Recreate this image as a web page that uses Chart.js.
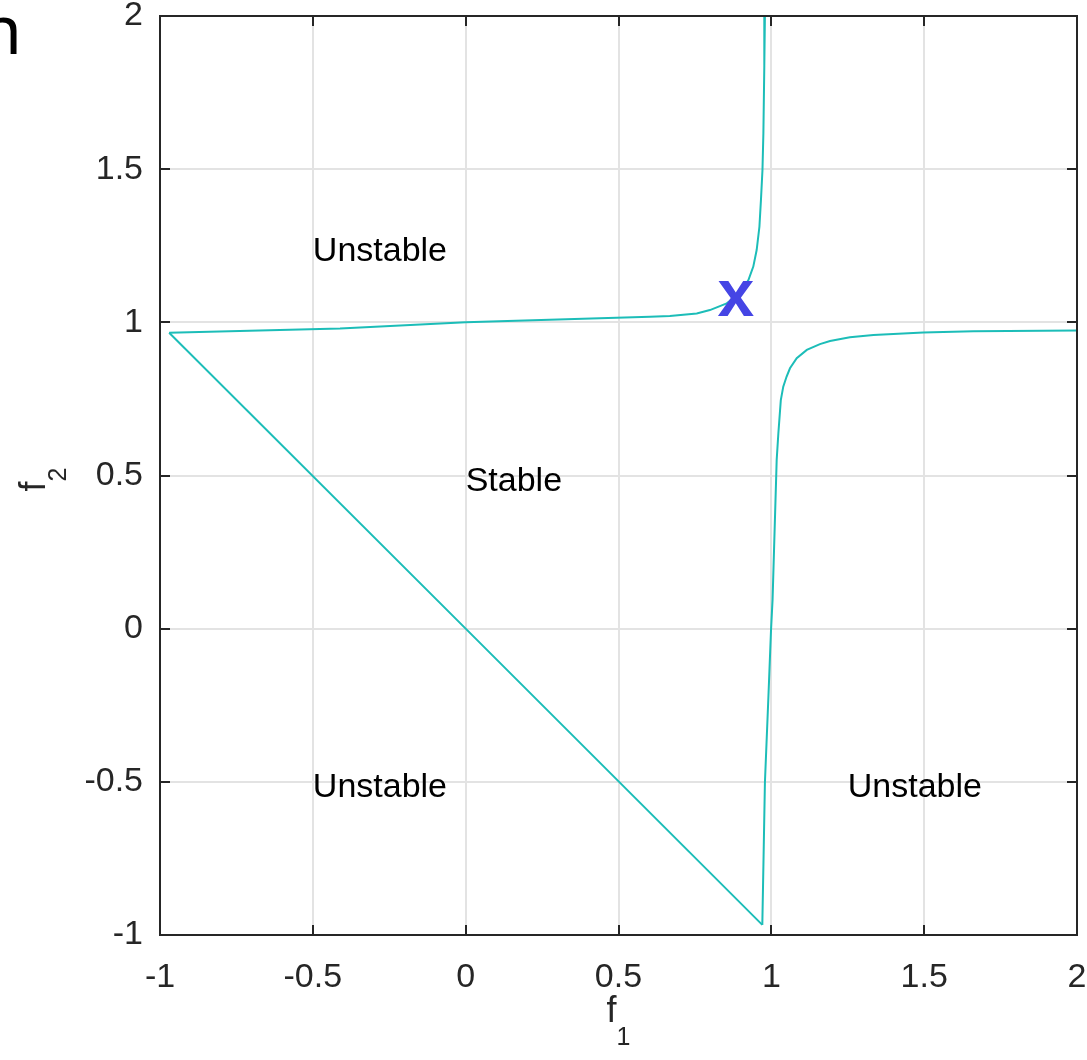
<!DOCTYPE html>
<html>
<head>
<meta charset="utf-8">
<script src="https://cdn.jsdelivr.net/npm/chart.js@4.4.1/dist/chart.umd.min.js"></script>
<style>
html,body{margin:0;padding:0;background:#fff;overflow:hidden;}
#wrap{position:relative;width:1087px;height:1060px;}
canvas{display:block;}
</style>
</head>
<body>
<div id="wrap"><canvas id="c" width="1087" height="1060" style="width:1087px;height:1060px;"></canvas></div>
<script>
// Upper boundary branch (f1, f2)
const upperF1 = [0.979, 0.977, 0.974, 0.971, 0.966, 0.961, 0.952, 0.941, 0.925, 0.898, 0.854, 0.799, 0.756, 0.668, 0.603, 0.0, -0.411, -0.970];
const upperF2 = [2.0, 1.835, 1.617, 1.497, 1.399, 1.312, 1.236, 1.182, 1.138, 1.095, 1.062, 1.040, 1.029, 1.021, 1.018, 1.0, 0.980, 0.966];
// Diagonal boundary
const diagF1 = [-0.970, 0.0, 0.9705];
const diagF2 = [0.966, 0.0, -0.967];
// Right boundary branch
const rightF1 = [0.9705, 0.974, 0.979, 0.990, 0.999, 1.004, 1.0175, 1.023, 1.031, 1.039, 1.050, 1.061, 1.083, 1.116, 1.159, 1.192, 1.257, 1.334, 1.497, 1.661, 2.0];
const rightF2 = [-0.967, -0.777, -0.503, -0.233, -0.004, 0.094, 0.551, 0.638, 0.746, 0.790, 0.823, 0.850, 0.883, 0.910, 0.929, 0.939, 0.951, 0.959, 0.967, 0.971, 0.973];
// Marker
const markerF1 = [0.884];
const markerF2 = [1.076];
// Region labels
const regionText = ['Unstable', 'Stable', 'Unstable', 'Unstable'];
const regionF1 = [-0.5, 0.0, -0.5, 1.25];
const regionF2 = [1.23, 0.48, -0.52, -0.52];
// Ticks
const tickValues = [-1, -0.5, 0, 0.5, 1, 1.5, 2];
const tickLabels = ['-1', '-0.5', '0', '0.5', '1', '1.5', '2'];

const toPts = (xs, ys) => xs.map((x, i) => ({x: x, y: ys[i]}));
const marker = toPts(markerF1, markerF2);

const AX = '#262626';
const FONT = '"Liberation Sans", Arial, Helvetica, sans-serif';
const LINE = '#1CBDB8';

const overlay = {
  id: 'overlay',
  afterDraw(chart) {
    const ctx = chart.ctx;
    const a = chart.chartArea;
    const xs = chart.scales.x, ys = chart.scales.y;
    ctx.save();
    ctx.strokeStyle = AX;
    ctx.lineWidth = 2;
    ctx.strokeRect(a.left, a.top, a.right - a.left, a.bottom - a.top);
    const tl = 10;
    ctx.beginPath();
    tickValues.forEach(v => {
      const px = Math.round(xs.getPixelForValue(v));
      ctx.moveTo(px, a.bottom); ctx.lineTo(px, a.bottom - tl);
      ctx.moveTo(px, a.top); ctx.lineTo(px, a.top + tl);
      const py = Math.round(ys.getPixelForValue(v));
      ctx.moveTo(a.left, py); ctx.lineTo(a.left + tl, py);
      ctx.moveTo(a.right, py); ctx.lineTo(a.right - tl, py);
    });
    ctx.stroke();
    // region labels
    ctx.fillStyle = '#000';
    ctx.font = '34px ' + FONT;
    ctx.textAlign = 'left';
    ctx.textBaseline = 'middle';
    regionText.forEach((t, i) => {
      ctx.fillText(t, xs.getPixelForValue(regionF1[i]), ys.getPixelForValue(regionF2[i]));
    });
    // marker x
    ctx.fillStyle = '#4545E5';
    ctx.font = 'bold 66px ' + FONT;
    ctx.textAlign = 'center';
    ctx.textBaseline = 'alphabetic';
    marker.forEach(p => {
      ctx.fillText('x', xs.getPixelForValue(p.x), ys.getPixelForValue(p.y) + 17);
    });
    // axis titles
    ctx.fillStyle = AX;
    ctx.textAlign = 'left';
    ctx.font = '36px ' + FONT;
    const fw = ctx.measureText('f').width;
    const cx = (a.left + a.right) / 2;
    ctx.fillText('f', cx - 12, 1022);
    ctx.font = '25px ' + FONT;
    ctx.fillText('1', cx - 12 + fw, 1045);
    ctx.save();
    ctx.translate(45, (a.top + a.bottom) / 2 + 16);
    ctx.rotate(-Math.PI / 2);
    ctx.font = '36px ' + FONT;
    ctx.fillText('f', 0, 0);
    ctx.font = '25px ' + FONT;
    ctx.fillText('2', fw, 21);
    ctx.restore();
    // panel letter
    ctx.fillStyle = '#000';
    ctx.font = '68px "Noto Sans", sans-serif';
    ctx.textAlign = 'left';
    ctx.textBaseline = 'alphabetic';
    ctx.fillText('n', -20, 54);
    ctx.restore();
  }
};

const noPad = s => { s.paddingTop = 0; s.paddingBottom = 0; s.paddingLeft = 0; s.paddingRight = 0; };
const lineDs = (d) => ({data: d, showLine: true, borderColor: LINE, borderWidth: 2, pointRadius: 0, fill: false, tension: 0});

new Chart(document.getElementById('c'), {
  type: 'scatter',
  data: {
    datasets: [
      lineDs(toPts(upperF1, upperF2)),
      lineDs(toPts(diagF1, diagF2)),
      lineDs(toPts(rightF1, rightF2))
    ]
  },
  options: {
    responsive: false,
    maintainAspectRatio: false,
    animation: false,
    devicePixelRatio: 1,
    layout: {padding: {left: 0, right: 10, top: 16, bottom: 0}},
    plugins: {legend: {display: false}, tooltip: {enabled: false}},
    scales: {
      x: {
        type: 'linear', min: -1, max: 2,
        afterBuildTicks: s => { s.ticks = tickValues.map(v => ({value: v})); },
        afterFit: s => { s.height = 125; noPad(s); },
        grid: {color: '#e3e3e3', lineWidth: 2, drawTicks: false},
        border: {display: false},
        ticks: {
          padding: 22, color: AX, font: {size: 34, family: FONT},
          maxRotation: 0, autoSkip: false,
          callback: (v) => tickLabels[tickValues.indexOf(v)]
        }
      },
      y: {
        type: 'linear', min: -1, max: 2,
        afterBuildTicks: s => { s.ticks = tickValues.map(v => ({value: v})); },
        afterFit: s => { s.width = 160; noPad(s); },
        grid: {color: '#e3e3e3', lineWidth: 2, drawTicks: false},
        border: {display: false},
        ticks: {
          padding: 17, color: AX, font: {size: 34, family: FONT},
          autoSkip: false,
          callback: (v) => tickLabels[tickValues.indexOf(v)]
        }
      }
    }
  },
  plugins: [overlay]
});
</script>
</body>
</html>
